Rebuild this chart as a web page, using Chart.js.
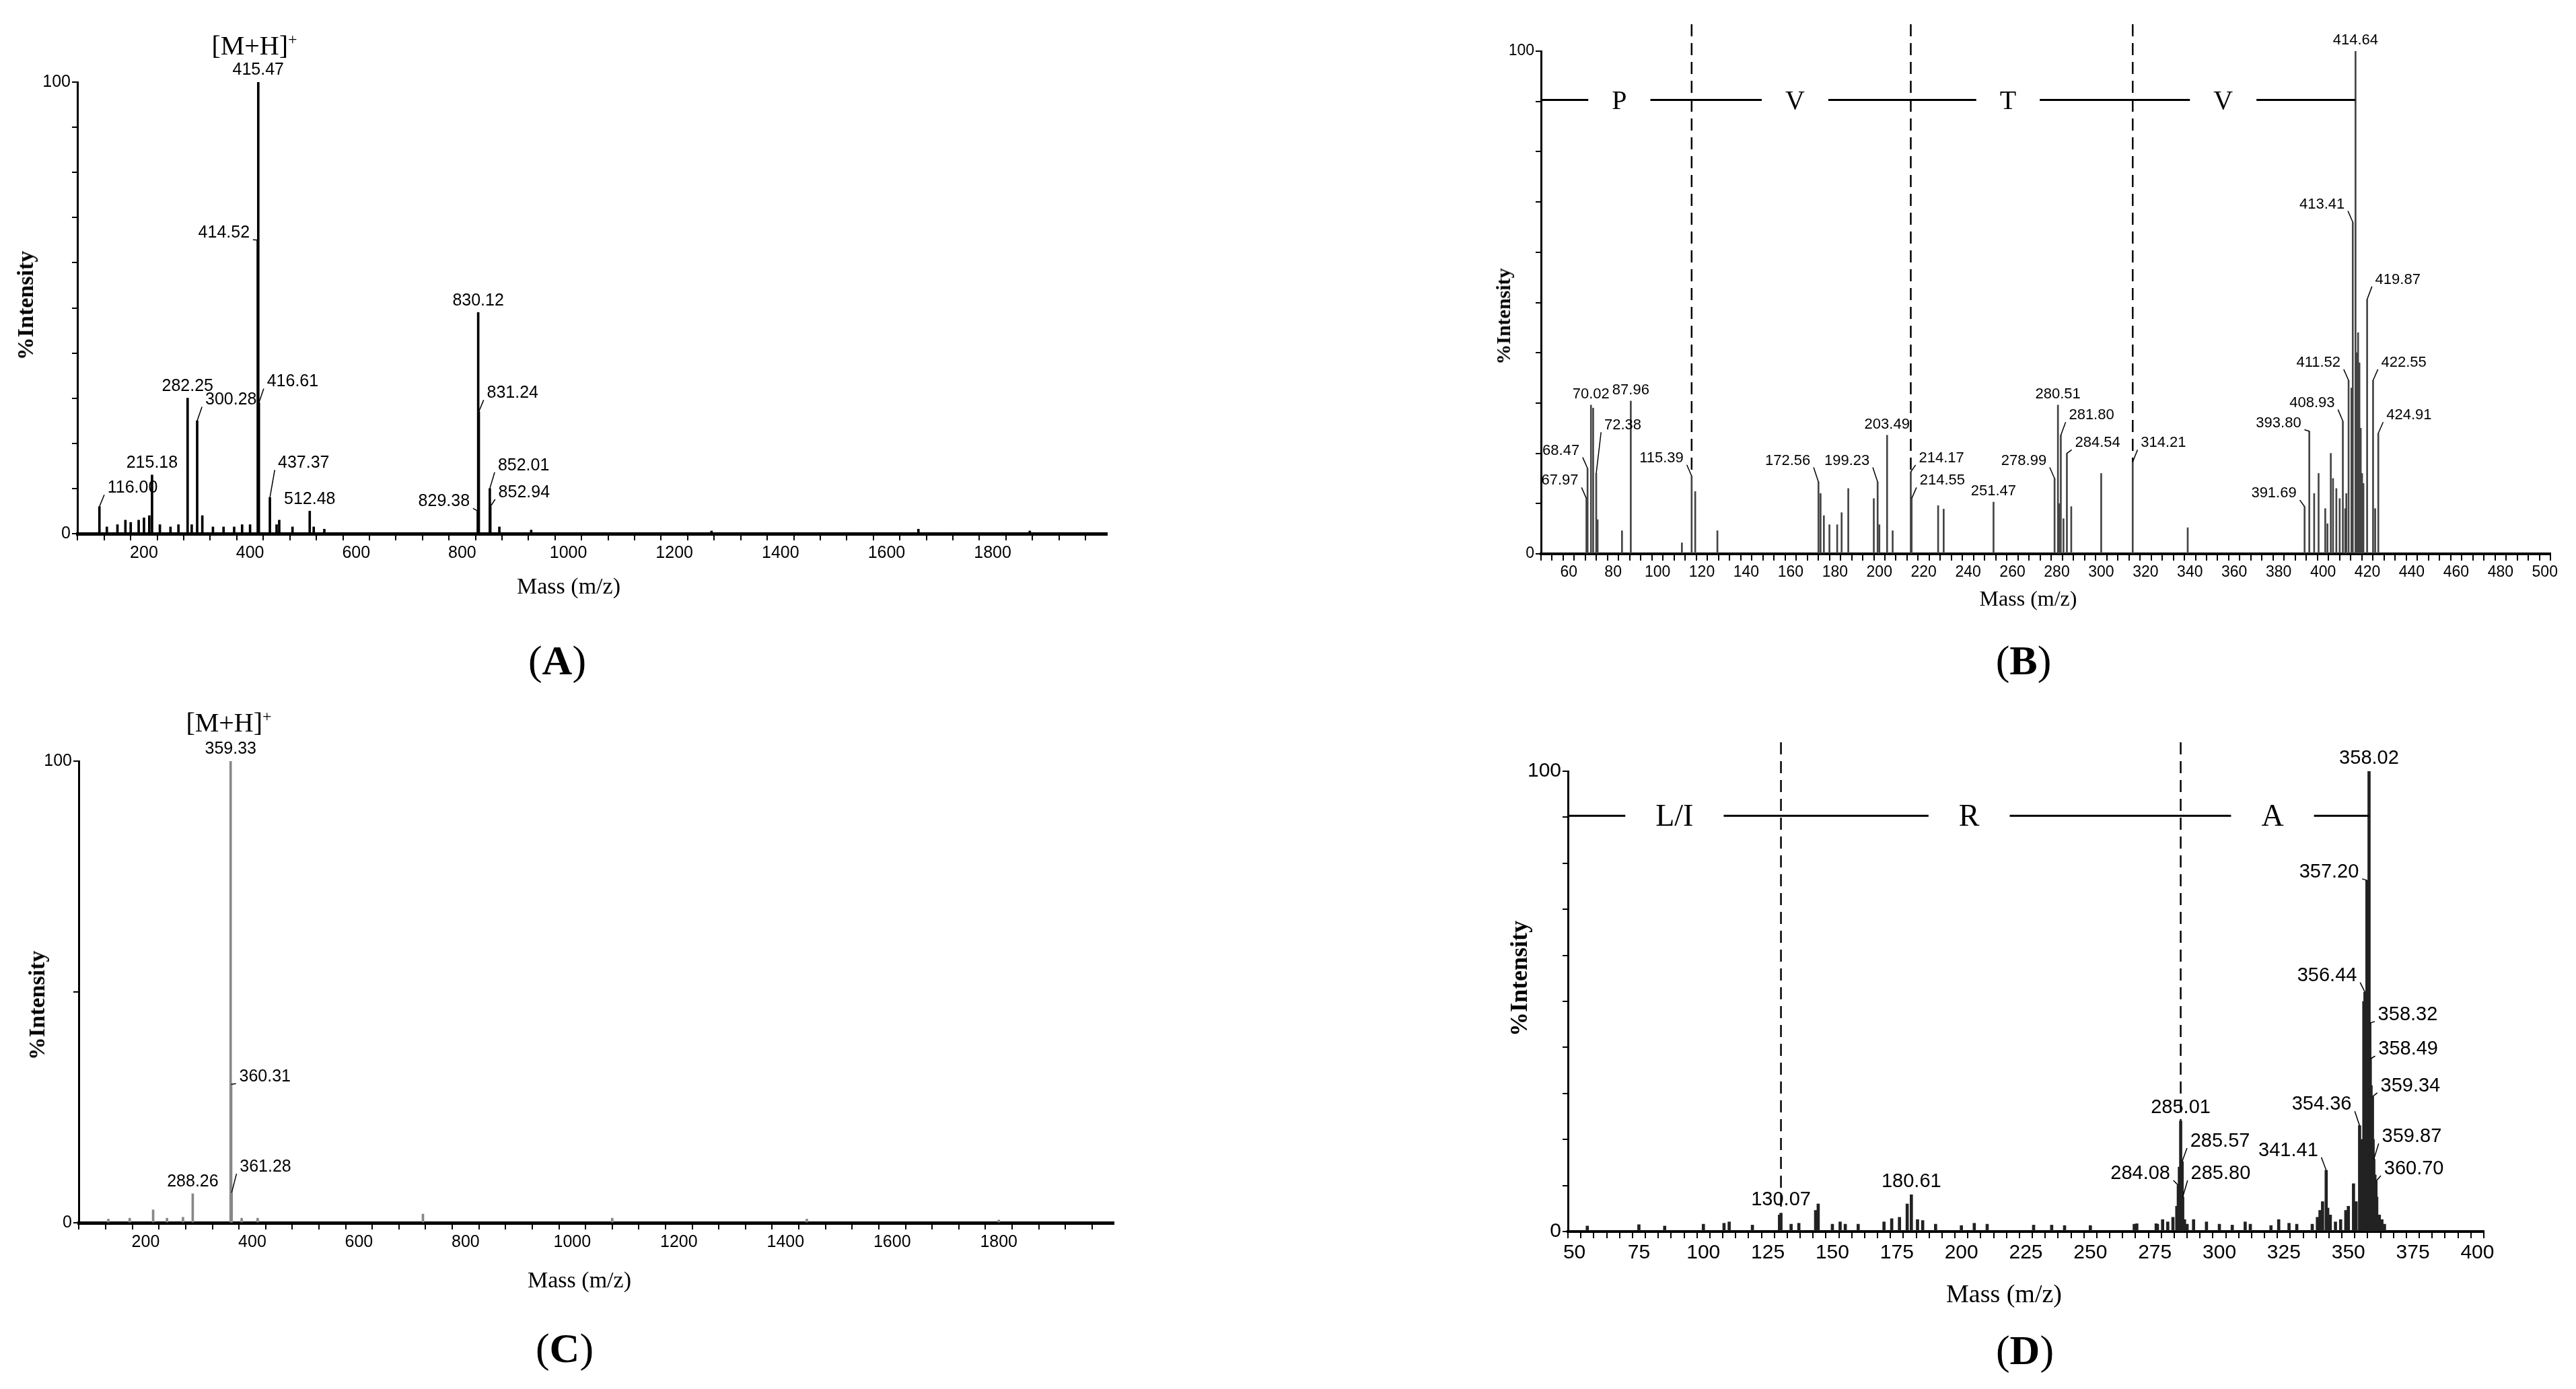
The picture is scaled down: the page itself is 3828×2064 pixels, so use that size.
<!DOCTYPE html>
<html><head><meta charset="utf-8">
<script src="https://cdn.jsdelivr.net/npm/chart.js@4"></script>
<style>
body{margin:0;width:3828px;height:2064px;background:#fff;position:relative;overflow:hidden}
canvas{position:absolute}
.t{position:absolute;font-family:"Liberation Serif",serif;color:#000;white-space:nowrap;transform:translate(-50%,-50%)}
.yl{font-weight:bold;font-size:34px;transform:translate(-50%,-50%) rotate(-90deg)}
.xl{font-size:34px}
.pl{font-size:62px}
.mh{font-size:40px}
</style></head><body>
<canvas id="cA" style="left:0;top:0" width="1700" height="1000"></canvas>
<canvas id="cB" style="left:2200px;top:0" width="1628" height="1000"></canvas>
<canvas id="cC" style="left:0;top:1030px" width="1700" height="1034"></canvas>
<canvas id="cD" style="left:2200px;top:1030px" width="1628" height="1034"></canvas>

<div class="t mh" style="left:378px;top:67px">[M+H]<sup style="font-size:24px">+</sup></div>
<div class="t yl" style="left:38px;top:454px">%Intensity</div>
<div class="t xl" style="left:845px;top:871px">Mass (m/z)</div>
<div class="t pl" style="left:828px;top:981px">(<b>A</b>)</div>

<div class="t yl" style="left:2234px;top:470px;font-size:30px">%Intensity</div>
<div class="t xl" style="left:3014px;top:889px;font-size:32px">Mass (m/z)</div>
<div class="t pl" style="left:3007px;top:981px">(<b>B</b>)</div>

<div class="t mh" style="left:340px;top:1073px">[M+H]<sup style="font-size:24px">+</sup></div>
<div class="t yl" style="left:55px;top:1494px">%Intensity</div>
<div class="t xl" style="left:861px;top:1902px">Mass (m/z)</div>
<div class="t pl" style="left:839px;top:2003px">(<b>C</b>)</div>

<div class="t yl" style="left:2257px;top:1454px;font-size:36px">%Intensity</div>
<div class="t xl" style="left:2978px;top:1922px;font-size:38px">Mass (m/z)</div>
<div class="t pl" style="left:3009px;top:2006px">(<b>D</b>)</div>

<script>
// ---------- Panel A data ----------
const mzA   = [116.00,130,150,165,175,190,200,210,215.18,230,250,265,282.25,290,300.28,310,330,350,370,385,400,414.52,415.47,416.61,437.37,450,455,480,512.48,520,540,829.38,830.12,831.24,852.01,852.94,870,930,1270,1660,1870];
const intA  = [6,1.5,2,3,2.5,3,3.5,4,13,2,1.5,2,30,2,25,4,1.5,1.5,1.5,2,2,65,100,29,8,2,3,1.5,5,1.5,1,5,49,27,10,6,1.5,0.8,0.6,1,0.6];
const labA  = [['415.47',415.47,'c'],['414.52',414.52,'l',66],['416.61',416.61,'r',33],['282.25',282.25,'c'],['300.28',300.28,'r',29],['215.18',215.18,'c'],['116.00',116.00,'r',9.5],['437.37',437.37,'r',15],['512.48',512.48,'c'],['830.12',830.12,'c'],['831.24',831.24,'r',30.5],['852.01',852.01,'r',14.5],['829.38',829.38,'l',6.5],['852.94',852.94,'r',8.5]];

// ---------- Panel B data ----------
const mzB  = [67.97,68.47,70.02,71.0,72.38,73.0,84,87.96,111,115.39,117,127,172.56,173.5,175,177.5,181,183,186,197.5,199.23,200,203.49,206,214.17,214.55,226.5,229,251.47,278.99,280.51,281.0,281.80,283,284.54,286.5,300,314.21,339,391.69,393.80,396,398,401,402,403.5,404.5,406,407.5,408.93,410,410.5,411.52,412.8,413.41,414.64,415.2,415.8,416.4,417.0,417.6,418.2,419.87,422.55,423.5,424.91];
const intB = [11,17,29.6,29,16,6.8,4.6,30.4,2.2,15.5,12.4,4.6,14.3,12,7.6,5.8,5.8,8.2,13,11,14.3,5.8,23.6,4.6,16.3,11,9.6,8.9,10.3,15,29.6,10,23.6,7,20,9.4,16,18.3,5.2,9.4,24.4,12,16,9,6,20,15,13,11,26.4,9,12,34.5,33,66,100,40,44,38,25,16,14,50.6,34.5,9,24];
const labB = [['414.64',414.64,'c'],['413.41',413.41,'l',69],['419.87',419.87,'r',54],['411.52',411.52,'l',37.5],['422.55',422.55,'r',37.5],['408.93',408.93,'l',29.5],['424.91',424.91,'r',27],['393.80',393.80,'l',25.5],['391.69',391.69,'l',11.5],['314.21',314.21,'r',21.5],['284.54',284.54,'r',21.5],['281.80',281.80,'r',27],['280.51',280.51,'c'],['278.99',278.99,'l',18],['251.47',251.47,'c'],['214.55',214.55,'r',14],['214.17',214.17,'r',18.5],['203.49',203.49,'c'],['199.23',199.23,'l',18],['172.56',172.56,'l',18],['115.39',115.39,'l',18.5],['87.96',87.96,'c'],['70.02',70.02,'c'],['72.38',72.38,'r',25],['68.47',68.47,'l',20],['67.97',67.97,'l',14]];
const seqB = ['P','V','T','V'];
const seqPosB = [82.8,162,258,355];
const cutsB = [115.39,214.17,314.21];

// ---------- Panel C data ----------
const mzC  = [130,170,214,240,270,288.26,359.33,360.31,361.28,380,410,720,1075,1440,1800];
const intC = [0.8,1,2.8,1,1.2,6.3,100,30,6.5,1,1,1.9,1,0.8,0.6];
const labC = [['359.33',359.33,'c'],['360.31',360.31,'r',31],['361.28',361.28,'r',11.5],['288.26',288.26,'c']];

// ---------- Panel D data ----------
const mzD  = [55,75,85,100,108,110,119,129.5,130.07,134,137,143.5,144.5,150,153,155,160,170,173,176,179,180.61,183,185,190,200,205,210,228,235,240,250,267,268,275.5,276,278,280,282,283.5,284.08,284.5,285.01,285.57,285.80,286.5,287.5,290,295,300,305,310,312,320,323,327,330,336,338,339,340,341.41,342,343,345,347,349,350,352,353,354.36,355,356.0,356.44,357.20,357.6,358.02,358.32,358.49,358.8,359.34,359.6,359.87,360.3,360.70,361,362,363,364];
const intD = [1.2,1.5,1.2,1.6,1.8,2.1,1.4,3.6,4,1.6,1.8,4.6,6,1.6,2.1,1.6,1.6,2.1,2.8,3.1,6,8,2.6,2.4,1.6,1.3,1.8,1.6,1.4,1.4,1.3,1.3,1.6,1.7,1.7,1.6,2.6,2.1,3.1,5.5,10,14,24,15.2,7.5,2.6,1.6,2.6,2.1,1.6,1.4,2.1,1.6,1.3,2.6,1.8,1.6,1.6,3.1,4.6,6.5,13.3,5.1,3.6,2.1,2.6,4.6,5.5,10.4,6.5,23,20,50,52,76.3,58.8,100,45.3,37.5,31.7,29.3,20,15.7,12.3,10.9,7.5,3.6,2.6,1.6];
const labD = [['358.02',358.02,'c'],['357.20',357.20,'l',77.5],['356.44',356.44,'l',55],['358.32',358.32,'r',46.5],['358.49',358.49,'r',39],['359.34',359.34,'r',31],['354.36',354.36,'l',27],['359.87',359.87,'r',20],['360.70',360.70,'r',13],['341.41',341.41,'l',17],['285.01',285.01,'c'],['285.57',285.57,'r',19],['285.80',285.80,'r',12],['284.08',284.08,'l',12],['180.61',180.61,'c'],['130.07',130.07,'c']];
const seqD = ['L/I','R','A'];
const seqPosD = [88.8,203,320.6];
const cutsD = [130.07,285.01];

function makePlugin(mz, inten, labels, o){
  return {id:'ms', afterDatasetsDraw(chart){
    const ctx=chart.ctx, xs=chart.scales.x, ys=chart.scales.y, ca=chart.chartArea;
    const top=(m)=>{const i=mz.indexOf(m);return i>=0?inten[i]:0;};
    ctx.save();
    ctx.fillStyle='#000'; ctx.strokeStyle='#000';
    if(o.seq){
      const ly=ys.getPixelForValue(90.3);
      const xEnd=xs.getPixelForValue(o.seqEnd);
      ctx.lineWidth=3; ctx.setLineDash([]);
      ctx.beginPath(); ctx.moveTo(ca.left,ly); ctx.lineTo(xEnd,ly); ctx.stroke();
      ctx.font=o.seqFont; ctx.textAlign='center'; ctx.textBaseline='middle';
      o.seq.forEach((s,i)=>{const px=xs.getPixelForValue(o.seqPos[i]);const w=ctx.measureText(s).width+o.seqGap;
        ctx.fillStyle='#fff'; ctx.fillRect(px-w/2,ly-25,w,50); ctx.fillStyle='#000'; ctx.fillText(s,px,ly+3);});
      ctx.lineWidth=2.5; ctx.setLineDash([18,10]);
      o.cuts.forEach(c=>{const px=xs.getPixelForValue(c);ctx.beginPath();ctx.moveTo(px,ca.top-o.cutTop);ctx.lineTo(px,ys.getPixelForValue(top(c)));ctx.stroke();});
      ctx.setLineDash([]);
    }
    ctx.font=o.labFont; ctx.lineWidth=1.5;
    labels.forEach(L=>{
      const [t,m,al,ly]=L; const px=xs.getPixelForValue(m), py=ys.getPixelForValue(top(m));
      if(al==='c'){ctx.textAlign='center';ctx.textBaseline='bottom';ctx.fillText(t,px,py-5);return;}
      const yy=ys.getPixelForValue(ly);
      const dx=al==='l'?-12:12;
      ctx.beginPath();ctx.moveTo(px,py);ctx.lineTo(px+dx*0.6,yy+6);ctx.stroke();
      ctx.textAlign=al==='l'?'right':'left';ctx.textBaseline='middle';
      ctx.fillText(t,px+dx,yy-4);
    });
    ctx.restore();
  }};
}

function build(id, mz, inten, labels, o){
  const data=mz.map((m,i)=>({x:m,y:inten[i]}));
  new Chart(document.getElementById(id),{
    type:'bar',
    data:{datasets:[{data, backgroundColor:o.color, borderWidth:0, barThickness:o.bw, categoryPercentage:1, barPercentage:1}]},
    options:{
      responsive:false, animation:false, devicePixelRatio:1,
      layout:{padding:o.pad},
      plugins:{legend:{display:false},tooltip:{enabled:false}},
      scales:{
        x:{type:'linear',min:o.xmin,max:o.xmax,
           afterFit:(s)=>{s.height=60;},
           afterBuildTicks:(s)=>{const t=[];for(let v=o.xmin;v<=o.xmax+1e-9;v+=o.xstep)t.push({value:v});s.ticks=t;},
           grid:{drawOnChartArea:false,tickLength:10,color:'#000',lineWidth:2},
           border:{color:'#000',width:o.xbw},
           ticks:{autoSkip:false,maxRotation:0,color:'#000',font:{family:o.tickFam,size:o.tickSize},padding:4,
             callback:(v)=>(v%o.xlab===0 && v>=o.xfirst)?String(v):''}},
        y:{min:0,max:100,
           afterFit:(s)=>{s.width=o.yw;},
           afterBuildTicks:(s)=>{const t=[];for(let v=0;v<=100;v+=o.ystep)t.push({value:v});s.ticks=t;},
           grid:{drawOnChartArea:false,tickLength:8,color:'#000',lineWidth:2},
           border:{color:'#000',width:3},
           ticks:{color:'#000',font:{family:o.tickFam,size:o.tickSize},padding:2,
             callback:(v)=>(v===0||v===100)?String(v):''}}
      }
    },
    plugins:[makePlugin(mz,inten,labels,o)]
  });
}
const narrow='"Liberation Sans Narrow","Liberation Sans",sans-serif';
build('cA',mzA,intA,labA,{color:'#000',bw:3,pad:{left:0,top:122,right:55,bottom:147},xmin:100,xmax:1990,xstep:50,xlab:200,xfirst:200,xbw:5,yw:115,ystep:10,tickFam:narrow,tickSize:25,labFont:'25px '+narrow});
build('cB',mzB,intB,labB,{color:'#444',bw:2,pad:{left:0,top:76,right:38,bottom:117},xmin:50,xmax:500,xstep:5,xlab:20,xfirst:60,xbw:4,yw:90,ystep:10,tickFam:narrow,tickSize:23,labFont:'22px '+narrow,
  seq:seqB,seqPos:seqPosB,seqEnd:414.64,cuts:cutsB,cutTop:40,seqFont:'40px "Liberation Serif",serif',seqGap:70});
build('cC',mzC,intC,labC,{color:'#888',bw:3,pad:{left:0,top:101,right:45,bottom:187},xmin:100,xmax:1990,xstep:50,xlab:200,xfirst:200,xbw:5,yw:117,ystep:50,tickFam:narrow,tickSize:25,labFont:'25px '+narrow});
build('cD',mzD,intD,labD,{color:'#222',bw:4,pad:{left:0,top:116,right:137,bottom:174},xmin:50,xmax:400,xstep:5,xlab:25,xfirst:50,xbw:4,yw:130,ystep:10,tickFam:'"Liberation Sans",Arial,sans-serif',tickSize:30,labFont:'29px "Liberation Sans",Arial,sans-serif',
  seq:seqD,seqPos:seqPosD,seqEnd:358.02,cuts:cutsD,cutTop:43,seqFont:'46px "Liberation Serif",serif',seqGap:90});
</script>
</body></html>
